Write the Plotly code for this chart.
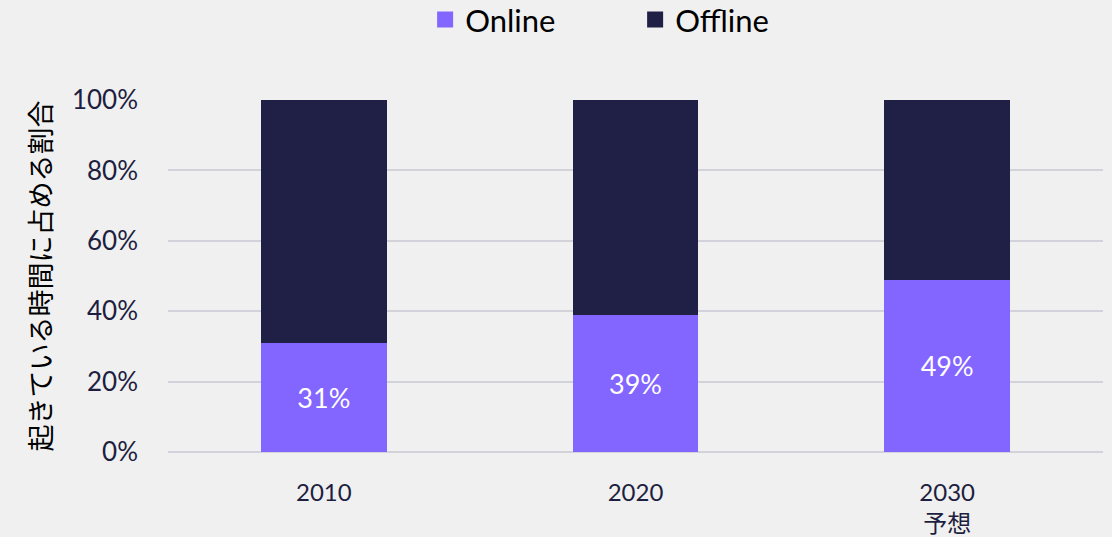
import plotly.graph_objects as go

years = ["2010", "2020", "2030<br>予想"]
online = [31, 39, 49]
offline = [69, 61, 51]
online_labels = ["31%", "39%", "49%"]

ink = "#1e1e40"
purple = "#8365ff"
navy = "#201f45"
font_family = "Lato, 'Noto Sans CJK JP', sans-serif"

fig = go.Figure()
fig.add_trace(go.Bar(
    x=years, y=online, name="Online", showlegend=False,
    marker=dict(color=purple, line_width=0),
    text=online_labels, textposition="inside", insidetextanchor="middle",
    textfont=dict(color="white", size=27, family=font_family),
))
fig.add_trace(go.Bar(
    x=years, y=offline, name="Offline", showlegend=False,
    marker=dict(color=navy, line_width=0),
))
# legend swatches (square markers)
for name, col in [("Online", purple), ("Offline", navy)]:
    fig.add_trace(go.Scatter(
        x=[None], y=[None], mode="markers", name=name,
        marker=dict(symbol="square", size=18, color=col),
    ))

fig.update_layout(
    barmode="stack",
    bargap=0.597,
    width=1112, height=537,
    paper_bgcolor="#f0f0f0",
    plot_bgcolor="#f0f0f0",
    margin=dict(l=168, r=9, t=100, b=85),
    font=dict(family=font_family, color=ink, size=20),
    showlegend=True,
    legend=dict(
        orientation="h", x=0.275, xanchor="left",
        yref="container", y=0.963, yanchor="middle",
        font=dict(size=31, color="black"), itemwidth=30,
        traceorder="normal", entrywidth=165,
        bgcolor="rgba(0,0,0,0)",
    ),
    uniformtext=dict(mode="show", minsize=10),
)
fig.update_xaxes(
    range=[-0.5, 2.5], showline=False, ticks="", automargin=False,
    tickfont=dict(size=24, color=ink, family=font_family),
    ticklabelstandoff=24,
)
fig.update_yaxes(
    range=[0, 100], tickvals=[0, 20, 40, 60, 80, 100],
    ticktext=["0%", "20%", "40%", "60%", "80%", "100%"],
    showgrid=True, gridcolor="#d2d2da", gridwidth=2,
    zeroline=True, zerolinecolor="#d2d2da", zerolinewidth=2,
    tickfont=dict(size=26, color=ink), ticklabelstandoff=29, automargin=False,
    title=dict(text="起きている時間に占める割合", font=dict(size=27, color="black",
               family="'Noto Sans CJK JP', sans-serif"), standoff=12),
)

fig.write_html("out.html", config={"displayModeBar": False},
               post_script="document.body.style.margin='0';")
